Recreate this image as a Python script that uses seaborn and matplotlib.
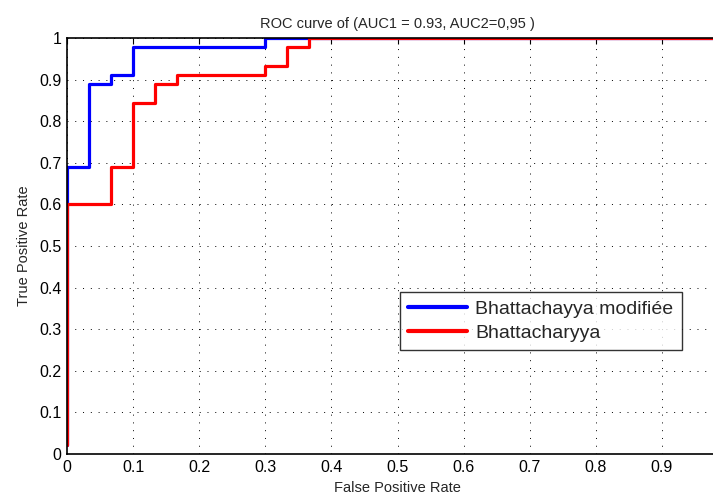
import matplotlib
matplotlib.use("Agg")
import matplotlib.pyplot as plt
import seaborn as sns
import pandas as pd

# Data (step ROC curves)
fpr_mod = [0.0, 0.0, 1/30, 2/30, 3/30, 9/30, 1.0]
tpr_mod = [0.022, 31/45, 40/45, 41/45, 44/45, 1.0, 1.0]
fpr_bha = [0.0, 0.0, 2/30, 3/30, 4/30, 5/30, 9/30, 10/30, 11/30, 1.0]
tpr_bha = [0.022, 27/45, 31/45, 38/45, 40/45, 41/45, 42/45, 44/45, 1.0, 1.0]
labels = ["Bhattachayya modifiée", "Bhattacharyya"]
xticks = [0, 0.1, 0.2, 0.3, 0.4, 0.5, 0.6, 0.7, 0.8, 0.9]
yticks = [0, 0.1, 0.2, 0.3, 0.4, 0.5, 0.6, 0.7, 0.8, 0.9, 1]

df = pd.concat([
    pd.DataFrame({"fpr": fpr_mod, "tpr": tpr_mod, "curve": labels[0], "order": range(len(fpr_mod))}),
    pd.DataFrame({"fpr": fpr_bha, "tpr": tpr_bha, "curve": labels[1], "order": range(len(fpr_bha))}),
], ignore_index=True)

sns.set_style("white")
plt.rcParams['font.family'] = ['Liberation Sans', 'DejaVu Sans']

fig = plt.figure(figsize=(7.13, 4.95), dpi=100)
W, H = 713, 495
left, right, top, bottom = 67, 728, 38, 454
ax = fig.add_axes([left / W, 1 - bottom / H, (right - left) / W, (bottom - top) / H])

sns.lineplot(data=df, x="fpr", y="tpr", hue="curve", palette={labels[0]: "#0000ff", labels[1]: "#ff0000"},
             estimator=None, sort=False, drawstyle="steps-post", linewidth=2.3, ax=ax)

ax.set_xlim(0, 1)
ax.set_ylim(0, 1)
ax.set_xticks(xticks)
ax.set_xticklabels([f"{t:g}" for t in xticks])
ax.set_yticks(yticks)
ax.set_yticklabels([f"{t:g}" for t in yticks])
ax.tick_params(direction="in", length=4, width=0.8, top=True, right=True, labelsize=11.5, colors="black", pad=4)
ax.grid(True, linestyle=(0, (1, 7)), color="black", linewidth=0.7)
for s in ax.spines.values():
    s.set_color("black")
    s.set_linewidth(1.2)

ax.set_xlabel("False Positive Rate", fontsize=10.5, labelpad=5)
ax.set_ylabel("True Positive Rate", fontsize=10.5, labelpad=6)
ax.set_title("ROC curve of (AUC1 = 0.93, AUC2=0,95 )", fontsize=10.5, pad=7)

leg = ax.legend(loc="upper left", bbox_to_anchor=((400 - left) / (right - left), (bottom - 292) / (bottom - top)),
                fontsize=14, frameon=True, fancybox=False, borderaxespad=0, handlelength=3.0,
                handletextpad=0.45, borderpad=0.42, labelspacing=0.35)
leg.get_frame().set_edgecolor("black")
leg.get_frame().set_linewidth(1.0)
for line in leg.get_lines():
    line.set_linewidth(3)

fig.savefig("out.png", dpi=100)
